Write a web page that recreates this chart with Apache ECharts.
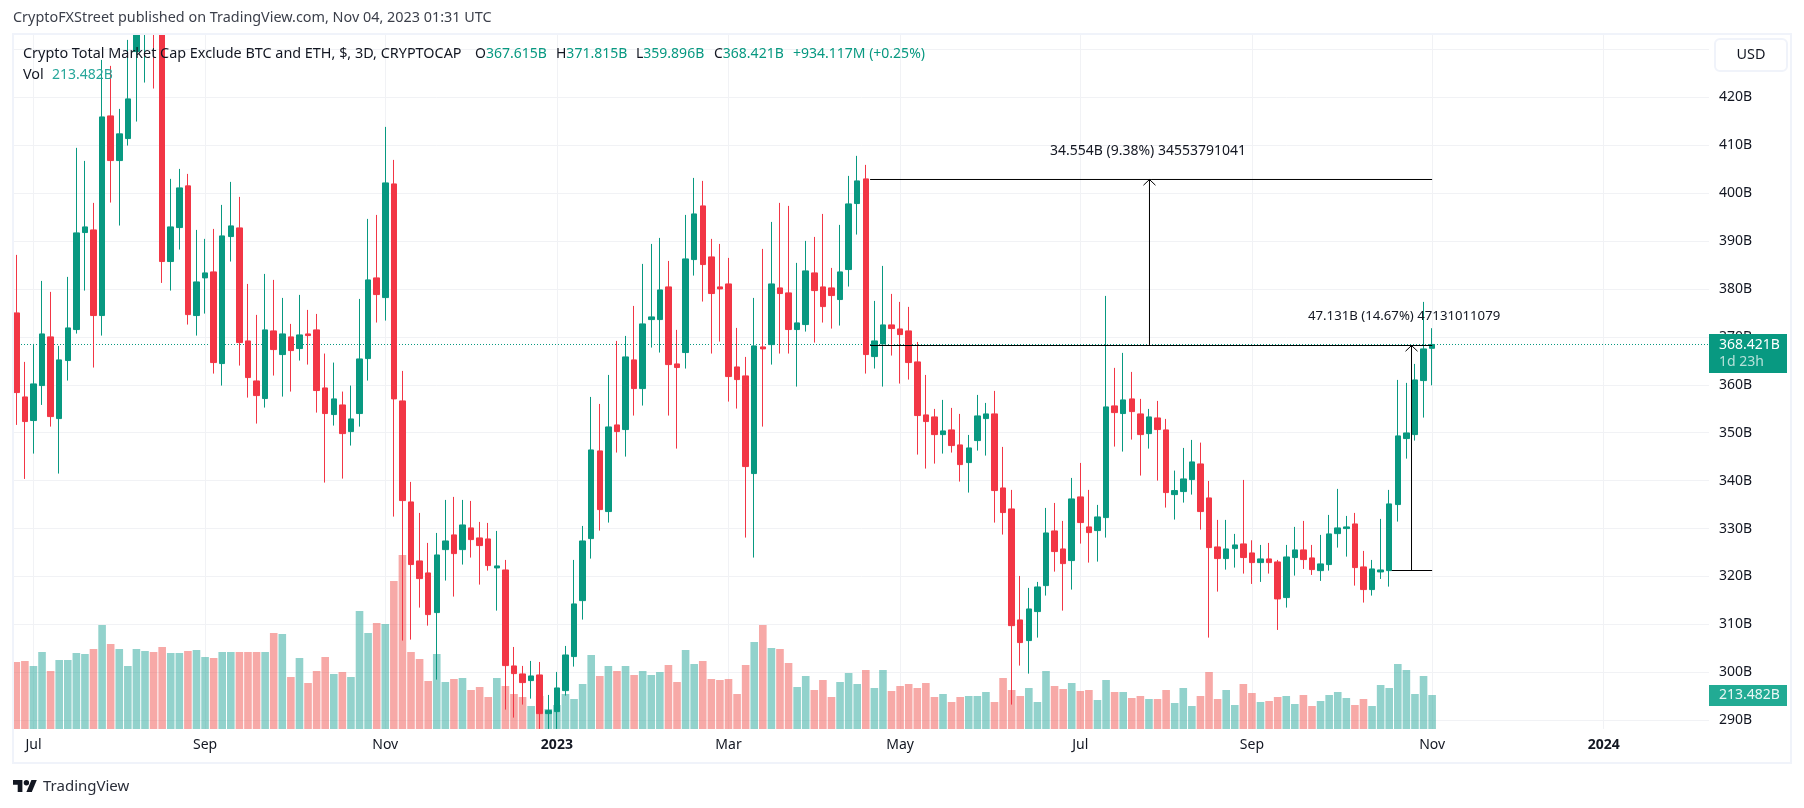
<!DOCTYPE html>
<html>
<head>
<meta charset="utf-8">
<style>
  html, body { margin: 0; padding: 0; background: #fff; }
  #chart { width: 1804px; height: 808px; }
</style>
<script src="https://cdn.jsdelivr.net/npm/echarts@6/dist/echarts.min.js"></script>
</head>
<body>
<div id="chart"></div>
<script>
// 3D bars, in B: [open, close, low, high]
const candles = [
  [375.00,358.38,351.63,387.11],[357.47,352.33,340.36,364.78],[352.54,360.19,345.65,368.53],[359.84,370.62,355.80,381.68],
  [370.00,353.37,351.28,379.39],[352.95,365.20,341.48,368.12],[365.06,371.87,360.88,382.52],[371.53,391.70,370.69,409.44],
  [391.77,392.95,379.66,406.72],[392.32,374.45,363.60,397.96],[374.45,415.90,370.27,427.80],[416.11,406.79,398.03,426.55],
  [406.79,412.36,393.23,417.57],[411.38,419.66,409.92,431.97],[429.54,436.15,414.93,438.90],[434.76,437.54,423.07,440.30],
  [437.54,434.41,421.82,440.30],[434.76,385.72,381.26,440.30],[385.72,392.95,379.66,402.97],[392.81,401.09,388.22,405.05],
  [401.51,374.65,372.57,404.01],[374.45,381.47,370.27,392.32],[382.31,383.35,374.86,390.45],[383.56,364.64,362.34,392.53],
  [364.43,391.07,359.84,397.54],[390.93,393.16,385.72,402.34],[392.74,368.81,364.01,399.21],[369.16,361.51,357.33,381.05],
  [360.81,357.75,351.91,374.59],[357.13,371.46,355.25,383.14],[371.25,367.35,361.93,381.89],[366.31,370.62,357.54,378.13],
  [370.00,367.14,358.59,372.71],[367.56,370.41,365.06,378.76],[370.62,370.27,364.22,375.63],[371.46,358.80,354.20,374.79],
  [359.35,354.00,339.60,366.52],[353.79,357.06,351.49,364.64],[355.80,349.82,340.43,358.59],[350.24,352.88,347.32,359.84],
  [354.00,365.40,351.28,377.92],[365.47,381.89,360.88,394.62],[382.31,378.83,372.99,395.45],[378.20,402.13,373.40,413.82],
  [401.92,357.06,332.50,406.93],[356.64,335.84,306.63,362.90],[335.56,322.49,306.83,339.74],[323.25,319.56,313.51,333.27],
  [320.75,312.05,309.75,327.01],[312.47,324.50,298.49,329.09],[325.61,327.42,319.15,335.98],[328.68,324.78,315.81,336.61],
  [325.61,330.76,322.49,335.98],[330.14,327.70,323.95,335.77],[328.05,326.45,318.31,331.39],[327.84,322.28,321.23,331.18],
  [321.79,322.21,312.88,329.51],[321.37,301.41,292.23,323.46],[301.34,299.74,290.56,305.30],[299.67,297.86,293.27,301.34],
  [298.28,299.25,294.52,302.38],[299.46,291.39,288.20,302.17],[291.39,292.02,288.20,295.29],[291.81,296.75,288.20,300.09],
  [296.19,303.63,295.15,305.51],[303.29,314.28,301.20,323.46],[314.97,327.42,311.01,330.55],[327.91,346.41,323.74,357.47],
  [346.21,333.96,329.58,356.01],[333.55,351.21,331.25,362.06],[351.63,350.24,345.86,369.16],[350.66,365.82,345.02,370.20],
  [365.20,359.21,353.58,376.46],[359.21,372.71,355.67,385.23],[373.61,374.17,367.77,389.40],[373.61,379.80,366.73,390.65],
  [380.43,364.22,353.58,385.85],[364.36,363.60,346.69,371.46],[366.73,386.27,363.39,395.45],[386.13,395.66,382.79,403.17],
  [397.33,385.09,377.37,402.55],[386.69,379.04,366.52,390.45],[380.43,380.01,369.02,389.40],[381.05,361.72,356.50,386.48],
  [363.73,361.09,355.04,371.87],[361.86,342.94,328.12,365.82],[341.48,368.12,323.95,378.13],[367.91,367.49,351.28,388.36],
  [368.39,381.05,364.22,393.99],[380.22,379.04,366.52,397.96],[379.18,371.53,366.52,397.33],[371.53,372.92,359.63,385.44],
  [372.57,383.77,371.11,390.03],[383.35,379.66,368.81,390.86],[380.43,376.32,372.99,395.66],[380.22,378.62,371.73,384.39],
  [377.79,383.56,372.36,393.37],[384.05,397.75,380.50,403.59],[397.82,402.55,391.35,407.77],[402.97,366.31,362.34,405.89],
  [365.89,369.16,363.39,377.51],[368.53,372.50,359.63,384.81],[372.50,371.73,366.10,378.97],[371.66,370.48,360.26,377.30],
  [371.25,364.64,361.09,376.26],[364.78,353.58,345.44,368.95],[353.72,352.33,342.52,362.06],[353.30,349.61,343.56,354.97],
  [349.61,350.38,345.65,356.85],[350.59,347.32,345.86,355.18],[347.46,343.35,339.81,353.93],[343.77,346.83,337.51,349.54],
  [348.36,353.51,346.27,357.89],[352.95,353.93,345.23,356.22],[353.93,337.93,331.25,358.73],[338.48,333.34,328.75,347.04],
  [334.10,309.75,293.27,338.07],[310.94,306.21,301.41,320.12],[306.63,313.23,299.74,317.62],[312.68,317.82,307.25,318.87],
  [318.10,329.09,316.02,334.31],[329.51,325.20,321.02,335.35],[325.75,322.69,312.88,331.60],[323.32,336.19,317.27,340.57],
  [336.61,331.25,326.87,343.70],[330.35,329.16,322.90,338.07],[329.58,332.43,323.11,334.94],[332.29,355.39,328.12,378.55],
  [355.60,354.20,347.11,363.53],[354.00,356.85,346.07,366.66],[357.06,354.41,348.57,362.69],[353.93,349.61,341.06,357.06],
  [349.82,353.30,346.69,354.97],[353.09,350.66,340.01,356.64],[350.59,337.51,334.38,352.88],[337.09,337.93,331.88,342.10],
  [337.72,340.36,335.42,346.83],[340.22,343.91,337.09,348.50],[343.49,333.55,329.79,347.94],[336.40,326.03,307.25,339.94],
  [326.17,323.74,316.85,331.81],[323.74,325.75,321.44,331.81],[325.82,326.59,321.86,328.89],[326.80,323.95,320.61,340.15],
  [324.92,322.90,318.45,327.56],[322.90,323.67,318.87,326.59],[323.67,322.90,320.61,327.01],[323.04,315.32,308.85,323.46],
  [315.60,324.08,313.51,326.59],[323.95,325.55,320.19,330.35],[325.55,323.53,321.58,331.60],[323.88,321.44,320.33,326.59],
  [321.23,322.63,319.08,328.68],[322.49,328.89,321.23,332.85],[328.95,330.14,326.03,338.28],[330.00,330.35,324.15,332.64],
  [330.97,321.86,318.10,333.27],[322.00,317.27,314.56,325.34],[317.27,321.58,316.02,323.46],[320.95,321.37,319.49,332.02],
  [321.23,335.15,317.89,338.07],[335.01,349.34,331.46,361.02],[348.78,349.96,344.60,360.40],[349.61,361.02,348.36,364.36],
  [360.88,367.49,353.16,377.30],[367.615,368.421,359.896,371.815]
];

const volumes = [
  420.7,427.0,395.6,483.5,364.2,433.3,433.3,477.2,470.9,502.3,653.0,533.7,502.3,395.6,502.3,489.8,483.5,514.9,477.2,477.2,
  489.8,496.0,452.1,445.8,483.5,483.5,483.5,483.5,483.5,483.5,602.8,596.5,326.5,445.8,288.8,364.2,452.1,345.3,357.9,326.5,
  740.9,602.8,665.6,659.3,929.3,1092.5,483.5,439.5,301.4,470.9,295.1,314.0,320.2,244.9,263.7,200.9,320.2,270.0,219.8,200.9,
  144.4,207.2,125.6,150.7,219.8,188.4,282.6,464.6,332.8,395.6,364.2,395.6,339.1,364.2,339.1,357.9,401.9,295.1,496.0,408.1,
  427.0,314.0,307.7,314.0,219.8,401.9,546.3,653.0,508.6,502.3,414.4,263.7,332.8,244.9,307.7,200.9,295.1,351.6,282.6,370.5,
  257.4,370.5,238.6,270.0,282.6,257.4,288.8,200.9,219.8,169.5,200.9,207.2,207.2,232.3,169.5,320.2,244.9,207.2,257.4,169.5,
  364.2,270.0,251.2,288.8,238.6,244.9,182.1,307.7,232.3,232.3,194.6,207.2,188.4,188.4,244.9,163.3,257.4,144.4,207.2,357.9,
  188.4,244.9,150.7,282.6,226.0,169.5,175.8,200.9,207.2,157.0,213.5,144.4,175.8,213.5,232.3,194.6,150.7,188.4,144.4,276.3,
  257.4,408.1,370.5,219.8,332.8,213.482
];

const priceTicks = [290,300,310,320,330,340,350,360,370,380,390,400,410,420,430];
const timeTickBars = [2,22,43,63,83,103,124,144,165,185];
const timeTickLabels = ['Jul','Sep','Nov','2023','Mar','May','Jul','Sep','Nov','2024'];

const lastClose = 368.41;
// measure tools, [startBar, endBar, arrowBar, fromPrice, toPrice]
const measureLong = [99.5, 165, 132.06, 368.20, 402.84];
const measureShort = [160.3, 165, 162.6, 321.25, 368.20];

const GREEN = '#089981', RED = '#f23645', TEXT = '#131722', GRID = '#f1f2f5', EDGE = '#f0f3fa';
const FONT = '"Noto Sans", sans-serif';
const SLOTS = 198;

const categories = [];
for (let i = 0; i < SLOTS; i++) {
  const t = timeTickBars.indexOf(i);
  categories.push(t >= 0 ? timeTickLabels[t] : String(i));
}
const onTimeTick = (i) => timeTickBars.indexOf(i) >= 0;

const volumeData = volumes.map((v, i) => ({
  value: v,
  itemStyle: { color: candles[i][1] >= candles[i][0] ? 'rgba(38,166,154,0.5)' : 'rgba(239,83,80,0.5)' },
}));

function measurePath(m) {
  const [a, b, x, lo, hi] = m;
  return [
    [a, lo], [b, lo], '-',
    [a, hi], [b, hi], '-',
    [x, lo], [x, hi], '-',
    [x - 0.7, hi - 1.2], [x, hi], [x + 0.7, hi - 1.2],
  ];
}

function text(x, y, content, opts) {
  return {
    type: 'text', x, y, z: 20,
    style: Object.assign({ text: content, fill: TEXT, font: '14.4px ' + FONT, textVerticalAlign: 'middle' }, opts || {}),
  };
}

function legendItem(x, letter, value) {
  return {
    type: 'text', x, y: 54, z: 20,
    style: {
      text: '{k|' + letter + '}{v|' + value + '}',
      textVerticalAlign: 'middle',
      rich: {
        k: { fill: TEXT, font: '14px ' + FONT },
        v: { fill: GREEN, font: '14px ' + FONT },
      },
    },
  };
}

const chart = echarts.init(document.getElementById('chart'), null, { renderer: 'canvas' });

chart.setOption({
  animation: false,
  backgroundColor: '#fff',
  grid: { left: 12, top: 34, width: 1699, height: 695 },
  xAxis: [
    {
      type: 'category',
      data: categories,
      boundaryGap: true,
      axisLine: { show: false },
      axisTick: { show: false },
      splitLine: { show: true, interval: onTimeTick, alignWithLabel: true, lineStyle: { color: GRID, width: 1 } },
      axisLabel: {
        interval: onTimeTick,
        margin: 9,
        color: TEXT,
        fontFamily: FONT,
        fontSize: 14,
        formatter: (v) => (/^\d{4}$/.test(v) ? '{y|' + v + '}' : v),
        rich: { y: { fontWeight: 'bold', fontFamily: FONT, fontSize: 14, color: TEXT } },
      },
    },
    { type: 'value', show: false, min: -0.5, max: SLOTS - 0.5 },
  ],
  yAxis: [
    {
      type: 'value',
      position: 'right',
      min: 288.18,
      max: 433.2,
      axisLine: { show: false },
      axisTick: { show: false, customValues: priceTicks },
      splitLine: { show: true, lineStyle: { color: GRID, width: 1 } },
      axisLabel: {
        customValues: priceTicks,
        margin: 8,
        color: TEXT,
        fontFamily: FONT,
        fontSize: 14,
        formatter: (v) => v + 'B',
      },
    },
    { type: 'value', show: false, min: 0, max: 4364, splitLine: { show: false } },
  ],
  series: [
    {
      name: 'Vol',
      type: 'bar',
      xAxisIndex: 0,
      yAxisIndex: 1,
      barWidth: 7.6,
      z: 1,
      data: volumeData,
    },
    {
      name: 'Last',
      type: 'line',
      xAxisIndex: 1,
      yAxisIndex: 0,
      z: 2,
      silent: true,
      symbol: 'none',
      lineStyle: { color: GREEN, width: 1, type: [1, 2] },
      data: [[-0.5, lastClose], [SLOTS - 0.5, lastClose]],
    },
    {
      name: 'Price',
      type: 'candlestick',
      xAxisIndex: 0,
      yAxisIndex: 0,
      barWidth: 6,
      z: 3,
      itemStyle: {
        color: GREEN, color0: RED,
        borderColor: GREEN, borderColor0: RED,
        borderWidth: 1,
      },
      data: candles,
    },
    {
      name: 'Measure',
      type: 'line',
      xAxisIndex: 1,
      yAxisIndex: 0,
      z: 4,
      silent: true,
      symbol: 'none',
      connectNulls: false,
      lineStyle: { color: '#000', width: 1 },
      data: measurePath(measureLong).concat(['-'], measurePath(measureShort)),
    },
  ],
  graphic: [
    // candlestick wicks are not cut at the grid, so mask the strip above the pane
    { type: 'rect', z: 9, shape: { x: 0, y: 0, width: 1804, height: 33 }, style: { fill: '#fff' } },
    { type: 'rect', z: 10, shape: { x: 1709, y: 34, width: 3, height: 695 }, style: { fill: '#fff' } },
    { type: 'rect', z: 11, shape: { x: 13, y: 34, width: 1778, height: 729 }, style: { fill: 'none', stroke: EDGE, lineWidth: 2 } },
    { type: 'rect', z: 12, shape: { x: 1715, y: 39, width: 72, height: 32, r: 5 }, style: { fill: '#fff', stroke: EDGE, lineWidth: 2 } },
    text(1751, 55, 'USD', { textAlign: 'center' }),

    text(13, 18, 'CryptoFXStreet published on TradingView.com, Nov 04, 2023 01:31 UTC', { fill: '#3b3f4a' }),
    text(23, 54, 'Crypto Total Market Cap Exclude BTC and ETH, $, 3D, CRYPTOCAP'),
    legendItem(475, 'O', '367.615B'),
    legendItem(556, 'H', '371.815B'),
    legendItem(636, 'L', '359.896B'),
    legendItem(714, 'C', '368.421B'),
    text(793, 54, '+934.117M (+0.25%)', { fill: GREEN, font: '14px ' + FONT }),
    text(23, 75, 'Vol'),
    text(52, 75, '213.482B', { fill: '#26a69a', font: '14px ' + FONT }),

    text(1148, 151, '34.554B (9.38%) 34553791041', { textAlign: 'center', font: '14px ' + FONT }),
    text(1308, 316, '47.131B (14.67%) 47131011079', { font: '13.2px ' + FONT }),

    { type: 'rect', z: 15, shape: { x: 1709, y: 334, width: 78, height: 39 }, style: { fill: GREEN } },
    text(1719, 345, '368.421B', { fill: '#fff', font: '14px ' + FONT }),
    text(1719, 362, '1d 23h', { fill: 'rgba(255,255,255,0.7)', font: '14px ' + FONT }),
    { type: 'rect', z: 15, shape: { x: 1709, y: 685, width: 78, height: 21 }, style: { fill: '#22ab94' } },
    text(1719, 695, '213.482B', { fill: 'rgba(255,255,255,0.9)', font: '14px ' + FONT }),

    // TradingView mark
    { type: 'polygon', z: 20, shape: { points: [[22.4,791.9],[17.7,791.9],[17.7,784.7],[13,784.7],[13,780],[22.4,780]] }, style: { fill: TEXT } },
    { type: 'polygon', z: 20, shape: { points: [[31.8,791.9],[26.4,791.9],[31.4,780],[36.8,780]] }, style: { fill: TEXT } },
    { type: 'circle', z: 20, shape: { cx: 26.4, cy: 782.7, r: 2.7 }, style: { fill: TEXT } },
    text(43, 787, 'TradingView', { font: '15px ' + FONT, fill: '#2a2e39' }),
  ],
});
</script>
</body>
</html>
